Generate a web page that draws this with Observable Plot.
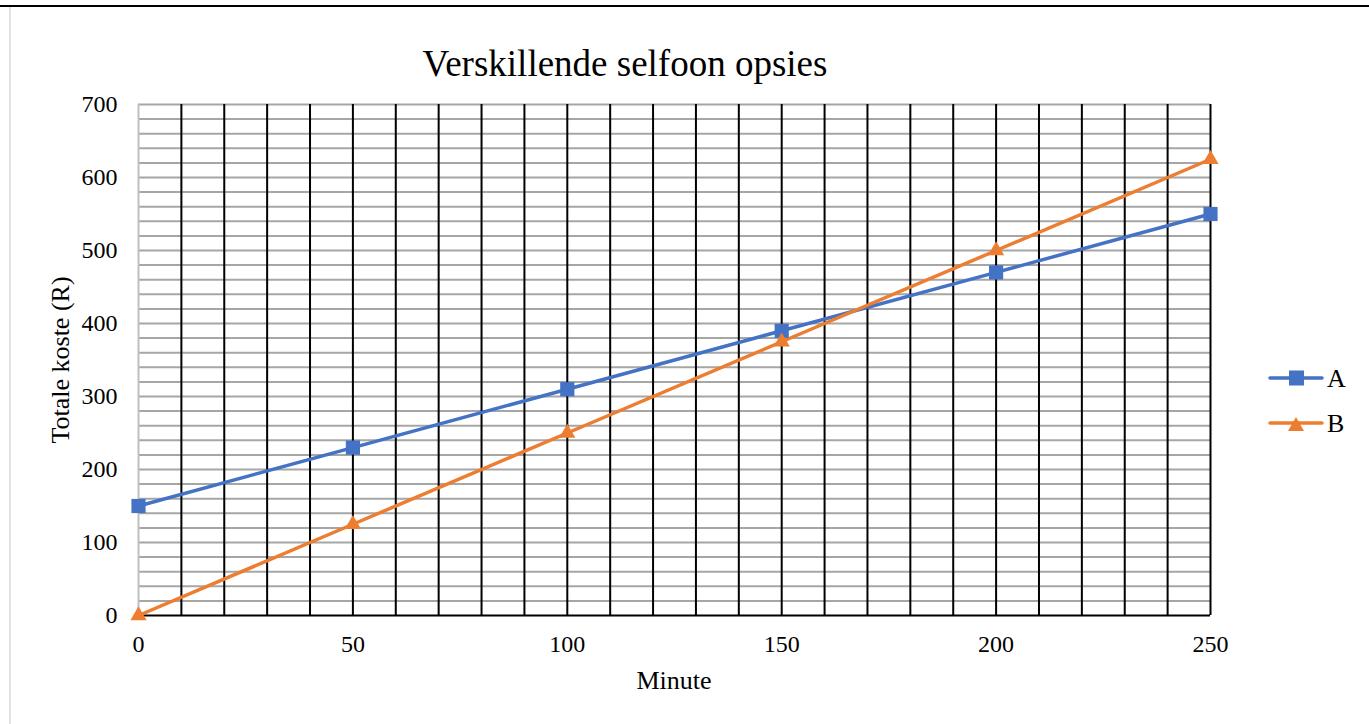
<!DOCTYPE html>
<html>
<head>
<meta charset="utf-8">
<script src="https://cdn.jsdelivr.net/npm/d3@7"></script>
<script src="https://cdn.jsdelivr.net/npm/@observablehq/plot@0.6"></script>
<style>
  html, body { margin: 0; padding: 0; background: #fff; }
  body { width: 1369px; height: 724px; position: relative; overflow: hidden; font-family: "Liberation Serif", "Times New Roman", serif; }
  #topline { position: absolute; left: 0; top: 5px; width: 1369px; height: 2px; background: #000; }
  #leftline { position: absolute; left: 9px; top: 7px; width: 2px; height: 717px; background: #e4e4e4; }
  #chart { position: absolute; left: 0; top: 0; }
  #title { position: absolute; left: 0; width: 1250px; top: 45px; text-align: center; font-size: 37px; line-height: 1; color: #000; white-space: nowrap; }
  #ylabel { position: absolute; left: 61px; top: 360px; line-height: 1; transform: translate(-50%, -50%) rotate(-90deg); font-size: 26px; white-space: nowrap; }
  #xlabel { position: absolute; left: 674px; top: 668px; line-height: 1; transform: translateX(-50%); font-size: 26px; white-space: nowrap; }
  #legend { position: absolute; left: 1260px; top: 355px; }
</style>
</head>
<body>
<div id="topline"></div>
<div id="leftline"></div>
<div id="chart"></div>
<div id="title">Verskillende selfoon opsies</div>
<div id="ylabel">Totale koste (R)</div>
<div id="xlabel">Minute</div>
<div id="legend"></div>
<script>
const minutes = [0, 50, 100, 150, 200, 250];
const costA = [150, 230, 310, 390, 470, 550];
const costB = [0, 125, 250, 375, 500, 625];
const seriesNames = ["A", "B"];
const seriesColors = ["#4472C4", "#ED7D31"];
const xTicks = [0, 50, 100, 150, 200, 250];
const yTicks = [0, 100, 200, 300, 400, 500, 600, 700];
const xGrid = d3.range(10, 251, 10);
const yGrid = d3.range(20, 701, 20);

const data = [
  ...minutes.map((m, i) => ({series: "A", x: m, y: costA[i]})),
  ...minutes.map((m, i) => ({series: "B", x: m, y: costB[i]}))
];

const plot = Plot.plot({
  width: 1369,
  height: 724,
  marginLeft: 138,
  marginRight: 159,
  marginTop: 104,
  marginBottom: 109,
  style: {fontFamily: "'Liberation Serif', 'Times New Roman', serif", fontSize: "24px", color: "#000", background: "transparent"},
  x: {domain: [0, 250], label: null},
  y: {domain: [0, 700], label: null},
  color: {domain: seriesNames, range: seriesColors},
  marks: [
    Plot.ruleY(yGrid, {stroke: "#a6a6a6", strokeWidth: 2}),
    Plot.ruleX([0], {stroke: "#bfbfbf", strokeWidth: 2}),
    Plot.ruleX(xGrid, {stroke: "#000", strokeWidth: 2}),
    Plot.ruleY([0], {stroke: "#000", strokeWidth: 2}),
    Plot.axisX({ticks: xTicks, tickSize: 0, tickPadding: 19, fontSize: 24, label: null, tickFormat: d => d}),
    Plot.axisY({ticks: yTicks, tickSize: 0, tickPadding: 21, fontSize: 24, label: null, tickFormat: d => d}),
    Plot.line(data, {x: "x", y: "y", z: "series", stroke: "series", strokeWidth: 3.5}),
    Plot.dot(data.filter(d => d.series === "A"), {x: "x", y: "y", symbol: "square", r: 8, fill: seriesColors[0], stroke: "none"}),
    Plot.dot(data.filter(d => d.series === "B"), {x: "x", y: "y", symbol: "triangle", r: 6, fill: seriesColors[1], stroke: "none"})
  ]
});
document.getElementById("chart").appendChild(plot);

// legend
const legY = [23, 68];
let svg = `<svg width="100" height="90" xmlns="http://www.w3.org/2000/svg" style="font-family:'Liberation Serif','Times New Roman',serif;font-size:26px">`;
seriesNames.forEach((name, i) => {
  const y = legY[i];
  svg += `<line x1="10" y1="${y}" x2="62" y2="${y}" stroke="${seriesColors[i]}" stroke-width="3.5" stroke-linecap="round"/>`;
  svg += i === 0
    ? `<rect x="29" y="${y - 7.5}" width="15" height="15" fill="${seriesColors[i]}"/>`
    : `<path d="M36,${y - 6} L44,${y + 8} L28,${y + 8} Z" fill="${seriesColors[i]}"/>`;
  svg += `<text x="67" y="${y + 9}" fill="#000">${name}</text>`;
});
svg += `</svg>`;
document.getElementById("legend").innerHTML = svg;
</script>
</body>
</html>
